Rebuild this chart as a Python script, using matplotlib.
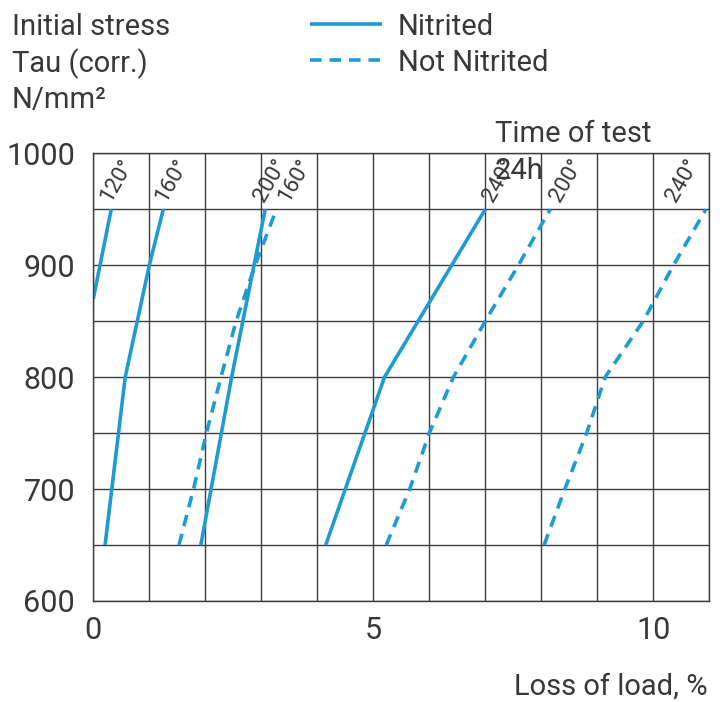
import matplotlib.pyplot as plt
from matplotlib.lines import Line2D

plt.rcParams['font.family'] = ['Roboto', 'DejaVu Sans']

W, H = 720, 702
LINE_COLOR = '#1e9bd2'
TEXT_COLOR = '#383838'
GRID_COLOR = '#3c3c3c'

# stress levels used by the curves, N/mm2
stress_levels = [650, 700, 750, 800, 850, 900, 950]

# nitrited (solid) curves, loss of load %
nit_120_x = [0.0, 0.32]
nit_120_y = [870, 950]
nit_160_x = [0.21, 0.57, 1.0, 1.25]
nit_160_y = [650, 800, 900, 950]
nit_200_x = [1.92, 2.47, 3.07]
nit_200_y = [650, 800, 950]
nit_240_x = [4.15, 5.2, 7.0]
nit_240_y = [650, 800, 950]

# not nitrited (dashed) curves, one x per stress level
not_160_x = [1.53, 1.79, 2.02, 2.28, 2.55, 2.89, 3.27]
not_200_x = [5.23, 5.65, 6.0, 6.43, 7.0, 7.59, 8.16]
not_240_x = [8.05, 8.42, 8.81, 9.14, 9.82, 10.36, 10.94]

temp_labels = ["120°", "160°", "200°", "160°", "240°", "200°", "240°"]
temp_label_x = [0.42, 1.41, 3.16, 3.6, 7.26, 8.45, 10.53]

x_tick_labels = ["0", "5", "10"]
y_tick_labels = ["600", "700", "800", "900", "1000"]


def px(x, y):
    # pixel position -> figure fraction
    return x / W, 1 - y / H


fig = plt.figure(figsize=(W / 100, H / 100), dpi=100)
ax = fig.add_axes([93.3 / W, 1 - 601 / H, 616 / W, 447.7 / H])

solid = dict(color=LINE_COLOR, lw=2.6, solid_capstyle='butt')
dashed = dict(color=LINE_COLOR, lw=2.6, dashes=(3.2, 2.2), dash_capstyle='butt')

ax.plot(nit_120_x, nit_120_y, **solid)
ax.plot(nit_160_x, nit_160_y, **solid)
ax.plot(nit_200_x, nit_200_y, **solid)
ax.plot(nit_240_x, nit_240_y, **solid)
ax.plot(not_160_x, stress_levels, **dashed)
ax.plot(not_200_x, stress_levels, **dashed)
ax.plot(not_240_x, stress_levels, **dashed)

for lab, lx in zip(temp_labels, temp_label_x):
    ax.text(lx, 976, lab, rotation=60, ha='center', va='center',
            rotation_mode='anchor', fontsize=16, color=TEXT_COLOR)

ax.set_xlim(0, 11)
ax.set_ylim(600, 1000)
ax.set_xticks(range(0, 12))
ax.set_xticklabels([x_tick_labels[i // 5] if i % 5 == 0 else "" for i in range(0, 12)])
ax.set_yticks(range(600, 1001, 50))
ax.set_yticklabels([y_tick_labels[(v - 600) // 100] if v % 100 == 0 else "" for v in range(600, 1001, 50)])
ax.tick_params(length=0, labelsize=22, labelcolor=TEXT_COLOR)
ax.tick_params(axis='y', pad=13)
ax.tick_params(axis='x', pad=11)
ax.grid(True, color=GRID_COLOR, lw=1.0)
ax.set_axisbelow(True)
for s in ax.spines.values():
    s.set_color(GRID_COLOR)
    s.set_linewidth(1.0)

# header texts
fig.text(*px(12, 35), "Initial stress", fontsize=21, color=TEXT_COLOR, va='baseline')
fig.text(*px(12, 72), "Tau (corr.)", fontsize=21, color=TEXT_COLOR, va='baseline')
fig.text(*px(12, 108), "N/mm²", fontsize=21, color=TEXT_COLOR, va='baseline')

fig.add_artist(Line2D([310 / W, 382 / W], [1 - 24 / H] * 2, transform=fig.transFigure, **solid))
fig.add_artist(Line2D([310 / W, 382 / W], [1 - 60 / H] * 2, transform=fig.transFigure, **dashed))
fig.text(*px(398, 35), "Nitrited", fontsize=21, color=TEXT_COLOR, va='baseline')
fig.text(*px(398, 71), "Not Nitrited", fontsize=21, color=TEXT_COLOR, va='baseline')

fig.text(*px(495, 142), "Time of test", fontsize=21, color=TEXT_COLOR, va='baseline')
fig.text(*px(495, 179), "24h", fontsize=21, color=TEXT_COLOR, va='baseline')

fig.text(*px(708, 695), "Loss of load, %", fontsize=21, color=TEXT_COLOR,
         ha='right', va='baseline')

fig.savefig('out.png', dpi=100, facecolor='white')
